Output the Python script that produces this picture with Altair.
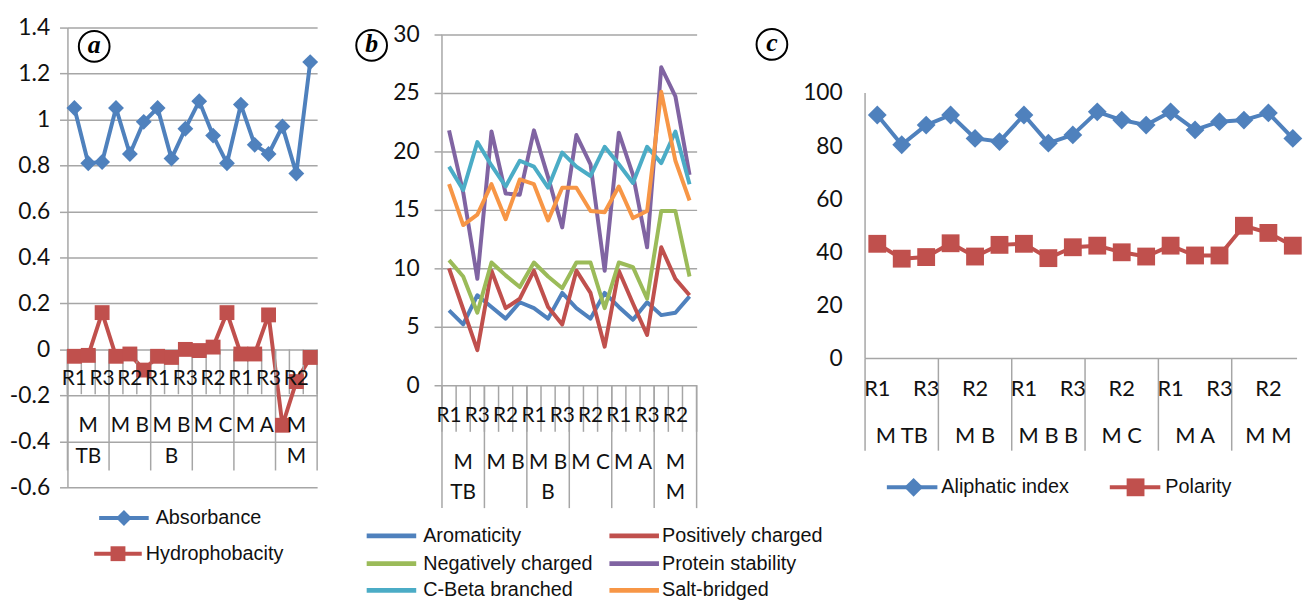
import altair as alt
import pandas as pd

# ---------------- data ----------------
groups = ["M TB", "M B", "M B B", "M C", "M A", "M M"]
group_line1 = ["M", "M B", "M B", "M C", "M A", "M"]
group_line2 = ["TB", "", "B", "", "", "M"]
replicates = ["R1", "R2", "R3"]
panel_letters = ["a", "b", "c"]

absorbance = [1.05, 0.81, 0.815, 1.05, 0.85, 0.99, 1.05, 0.83, 0.96, 1.08, 0.93, 0.81,
              1.065, 0.89, 0.85, 0.97, 0.765, 1.25]
hydrophobacity = [-0.03, -0.026, 0.16, -0.03, -0.02, -0.09, -0.03, -0.035, 0.0, -0.005, 0.01, 0.16,
                  -0.02, -0.02, 0.15, -0.33, -0.14, -0.035]

aromaticity = [6.4, 5.2, 7.7, 6.7, 5.7, 7.1, 6.6, 5.7, 7.9, 6.6, 5.7, 7.9, 6.7, 5.6, 7.1, 6.0, 6.2, 7.6]
positively_charged = [10.0, 6.5, 3.0, 9.8, 6.6, 7.4, 9.8, 6.7, 5.2, 9.8, 7.9, 3.3, 9.8, 7.0, 4.3, 11.8, 9.1, 7.7]
negatively_charged = [10.7, 9.3, 6.2, 10.5, 9.4, 8.4, 10.5, 9.3, 8.3, 10.5, 10.5, 6.6, 10.5, 10.1, 7.4, 14.9, 14.9, 9.3]
protein_stability = [21.8, 16.5, 9.1, 21.7, 16.4, 16.3, 21.8, 17.8, 13.5, 21.4, 18.9, 9.8, 21.6, 18.0, 11.8, 27.2, 24.7, 18.0]
c_beta_branched = [18.7, 16.7, 20.8, 18.8, 17.0, 19.2, 18.7, 16.9, 19.9, 18.7, 17.9, 20.4, 18.9, 17.3, 20.4, 19.0, 21.7, 17.2]
salt_bridged = [17.2, 13.7, 14.6, 17.2, 14.2, 17.6, 17.2, 14.1, 16.9, 16.9, 14.9, 14.8, 17.0, 14.3, 14.9, 25.1, 19.2, 15.8]

aliphatic_index = [91.7, 80.5, 87.9, 91.7, 82.9, 81.7, 91.7, 81.1, 84.2, 92.9, 89.8, 87.9,
                   92.9, 86.1, 89.2, 89.8, 92.5, 82.9]
polarity = [43.2, 37.6, 38.2, 43.4, 38.4, 42.8, 43.2, 37.8, 41.9, 42.5, 40.0, 38.4,
            42.5, 38.8, 38.8, 50.0, 47.3, 42.5]

# ---------------- styles ----------------
BLUE, RED, GREEN = "#4f81bd", "#c0504d", "#9bbb59"
PURPLE, AQUA, ORANGE = "#8064a2", "#4bacc6", "#f79646"
GRID = "#a6a6a6"
TXT = "#111111"
AXFONT = "Lato"
LEGFONT = "Liberation Sans"
YFS = 23
CFS = 21

N = len(groups) * len(replicates)
H = 464

cats = pd.DataFrame({"i": list(range(N))})
cats["pos"] = cats["i"] + 0.5
cats["rep"] = [replicates[i % 3] for i in range(N)]
shown = cats[cats["i"] % 2 == 0]
grp = pd.DataFrame({"center": [3 * g + 1.5 for g in range(len(groups))],
                    "name": groups, "l1": group_line1, "l2": group_line2})
bounds_all = pd.DataFrame({"b": list(range(N + 1))})
bounds_grp = pd.DataFrame({"b": list(range(0, N + 1, 3))})
one = pd.DataFrame({"k": [0]})


def long(d):
    rows = []
    for name, vals in d.items():
        for i, v in enumerate(vals):
            rows.append({"series": name, "pos": i + 0.5, "value": v})
    return pd.DataFrame(rows)


def text_layer(df, xs, field, y, size=CFS):
    return alt.Chart(df).mark_text(font=AXFONT, fontSize=size, color=TXT, baseline="middle",
                                   align="center").encode(
        x=alt.X(f"{xs[0]}:Q", scale=xs[1], axis=None), y=alt.value(y), text=f"{field}:N")


def circled(letter, x, y):
    df = pd.DataFrame({"t": [letter]})
    c = alt.Chart(df).mark_point(shape="circle", size=961, filled=False, stroke="black",
                                 strokeWidth=2, opacity=1).encode(x=alt.value(x), y=alt.value(y))
    t = alt.Chart(df).mark_text(font="Liberation Serif", fontStyle="italic", fontWeight="bold",
                                fontSize=26, color="black", baseline="middle", dy=-1).encode(
        x=alt.value(x), y=alt.value(y), text="t:N")
    return [c, t]


def legend_item(name, color, x1, x2, xt, y, shape=None, size=None, xm=None, sw=4):
    df = pd.DataFrame({"series": [name]})
    layers = [alt.Chart(df).mark_rule(strokeWidth=sw, color=color).encode(
        x=alt.value(x1), x2=alt.value(x2), y=alt.value(y))]
    if shape is not None:
        layers.append(alt.Chart(df).mark_point(filled=True, opacity=1, shape=shape, size=size,
                                               color=color).encode(
            x=alt.value(xm), y=alt.value(y)))
    layers.append(alt.Chart(df).mark_text(font=LEGFONT, fontSize=20, color=TXT, align="left",
                                          baseline="middle").encode(
        x=alt.value(xt), y=alt.value(y), text="series:N"))
    return layers


# ================= panel a =================
WA = 252
xa = alt.Scale(domain=[0, N], nice=False, zero=False)
ya = alt.Scale(domain=[-0.6, 1.4], nice=False, zero=False)
a_names = ["Absorbance", "Hydrophobacity"]
a_colors = [BLUE, RED]
a_shapes = ["diamond", "square"]
a_sizes = [256, 225]
a_color = alt.Scale(domain=a_names, range=a_colors)
a_shape = alt.Scale(domain=a_names, range=a_shapes)
a_size = alt.Scale(domain=a_names, range=a_sizes)
a_df = long({"Absorbance": absorbance, "Hydrophobacity": hydrophobacity})

ya_axis = alt.Axis(values=[-0.6, -0.4, -0.2, 0, 0.2, 0.4, 0.6, 0.8, 1.0, 1.2, 1.4],
                   labelExpr="'' + round(datum.value*10)/10", grid=True, gridColor=GRID,
                   gridWidth=1.5, domain=True, domainColor=GRID, domainWidth=1.5,
                   tickColor=GRID, tickWidth=1.5, tickSize=8, labelPadding=10,
                   labelFontSize=YFS, labelFont=AXFONT, labelColor=TXT, title=None)

# invisible (white) corner marker fixing the page origin of the whole figure
anchor = alt.Chart(one).mark_rule(color="white", strokeWidth=0.2).encode(
    x=alt.value(-59.7), x2=alt.value(-59.7), y=alt.value(-16.7), y2=alt.value(-12))

a_line = alt.Chart(a_df).mark_line(strokeWidth=4, strokeJoin="round").encode(
    x=alt.X("pos:Q", scale=xa, axis=None),
    y=alt.Y("value:Q", scale=ya, axis=ya_axis),
    color=alt.Color("series:N", scale=a_color, legend=None))
a_pts = alt.Chart(a_df).mark_point(filled=True, opacity=1).encode(
    x=alt.X("pos:Q", scale=xa, axis=None),
    y=alt.Y("value:Q", scale=ya, axis=ya_axis),
    color=alt.Color("series:N", scale=a_color, legend=None),
    shape=alt.Shape("series:N", scale=a_shape, legend=None),
    size=alt.Size("series:N", scale=a_size, legend=None))
a_ticks = alt.Chart(bounds_all).mark_rule(color=GRID, strokeWidth=1.5).encode(
    x=alt.X("b:Q", scale=xa, axis=None), y=alt.YDatum(0, scale=ya, axis=ya_axis), y2=alt.value(370))
a_div = alt.Chart(bounds_grp).mark_rule(color=GRID, strokeWidth=1.5).encode(
    x=alt.X("b:Q", scale=xa, axis=None), y=alt.YDatum(0, scale=ya, axis=ya_axis), y2=alt.value(447))

a_leg_layers = []
for nm, col, shp, sz, x1, x2, xm, xt, yy in zip(a_names, a_colors, a_shapes, a_sizes,
                                                [32, 27], [82, 75], [57, 51], [89, 79], [495, 531]):
    a_leg_layers += legend_item(nm, col, x1, x2, xt, yy, shp, sz, xm)

panel_a = alt.layer(
    a_line, a_ticks, a_div, a_pts, anchor,
    text_layer(shown, ("pos", xa), "rep", 355),
    text_layer(grp, ("center", xa), "l1", 402),
    text_layer(grp, ("center", xa), "l2", 433),
    *a_leg_layers,
    *circled(panel_letters[0], 27, 19),
).properties(width=WA, height=H)

# ================= panel b =================
WB = 257
xb = alt.Scale(domain=[0, N], nice=False, zero=False)
yb = alt.Scale(domain=[-8.729, 30.593], nice=False, zero=False)
b_names = ["Aromaticity", "Positively charged", "Negatively charged", "Protein stability",
           "C-Beta branched", "Salt-bridged"]
b_colors = [BLUE, RED, GREEN, PURPLE, AQUA, ORANGE]
b_color = alt.Scale(domain=b_names, range=b_colors)
b_df = long({"Aromaticity": aromaticity, "Positively charged": positively_charged,
             "Negatively charged": negatively_charged, "Protein stability": protein_stability,
             "C-Beta branched": c_beta_branched, "Salt-bridged": salt_bridged})

yb_axis = alt.Axis(values=[0, 5, 10, 15, 20, 25, 30], grid=True, gridColor=GRID, gridWidth=1.5,
                   domain=False, tickColor=GRID, tickWidth=1.5, tickSize=8, labelPadding=15,
                   labelFontSize=YFS, labelFont=AXFONT, labelColor=TXT, title=None)

b_line = alt.Chart(b_df).mark_line(strokeWidth=4, strokeJoin="round").encode(
    x=alt.X("pos:Q", scale=xb, axis=None),
    y=alt.Y("value:Q", scale=yb, axis=yb_axis),
    color=alt.Color("series:N", scale=b_color, legend=None))
b_axisline = alt.Chart(one).mark_rule(color=GRID, strokeWidth=1.5).encode(
    x=alt.XDatum(0, scale=xb, axis=None), y=alt.YDatum(0, scale=yb, axis=yb_axis), y2=alt.Y2Datum(30))
b_ticks = alt.Chart(bounds_all).mark_rule(color=GRID, strokeWidth=1.5).encode(
    x=alt.X("b:Q", scale=xb, axis=None), y=alt.YDatum(0, scale=yb, axis=yb_axis), y2=alt.value(408))
b_div = alt.Chart(bounds_grp).mark_rule(color=GRID, strokeWidth=1.5).encode(
    x=alt.X("b:Q", scale=xb, axis=None), y=alt.YDatum(0, scale=yb, axis=yb_axis), y2=alt.value(485))

b_leg_order = [0, 2, 4, 1, 3, 5]
b_leg_layers = []
for k, idx in enumerate(b_leg_order):
    colx = k // 3
    rowy = [513, 541, 568][k % 3]
    x1, x2, xt = [(-76, -26, -19), (169, 219, 222)][colx]
    b_leg_layers += legend_item(b_names[idx], b_colors[idx], x1, x2, xt, rowy, sw=5)

panel_b = alt.layer(
    b_line, b_ticks, b_div, b_axisline,
    text_layer(shown, ("pos", xb), "rep", 392),
    text_layer(grp, ("center", xb), "l1", 440),
    text_layer(grp, ("center", xb), "l2", 470),
    *b_leg_layers,
    *circled(panel_letters[1], -71, 18),
).properties(width=WB, height=H)

# ================= panel c =================
WC = 480
CAT_C = 24.67
xc = alt.Scale(domain=[-44 / CAT_C, (WC - 44) / CAT_C], nice=False, zero=False)
yc = alt.Scale(domain=[-48.51, 124.63], nice=False, zero=False)
c_names = ["Aliphatic index", "Polarity"]
c_colors = [BLUE, RED]
c_shapes = ["diamond", "square"]
c_sizes = [361, 324]
c_color = alt.Scale(domain=c_names, range=c_colors)
c_shape = alt.Scale(domain=c_names, range=c_shapes)
c_size = alt.Scale(domain=c_names, range=c_sizes)
c_df = long({"Aliphatic index": aliphatic_index, "Polarity": polarity})

yc_axis = alt.Axis(values=[0, 20, 40, 60, 80, 100], grid=False, domain=False, ticks=False,
                   labelPadding=23, offset=-44, labelFontSize=YFS, labelFont=AXFONT,
                   labelColor=TXT, title=None)

c_line = alt.Chart(c_df).mark_line(strokeWidth=4, strokeJoin="round").encode(
    x=alt.X("pos:Q", scale=xc, axis=None),
    y=alt.Y("value:Q", scale=yc, axis=yc_axis),
    color=alt.Color("series:N", scale=c_color, legend=None))
c_pts = alt.Chart(c_df).mark_point(filled=True, opacity=1).encode(
    x=alt.X("pos:Q", scale=xc, axis=None),
    y=alt.Y("value:Q", scale=yc, axis=yc_axis),
    color=alt.Color("series:N", scale=c_color, legend=None),
    shape=alt.Shape("series:N", scale=c_shape, legend=None),
    size=alt.Size("series:N", scale=c_size, legend=None))
c_axisline = alt.Chart(one).mark_rule(color=GRID, strokeWidth=1.5).encode(
    x=alt.XDatum(0, scale=xc, axis=None), y=alt.YDatum(0, scale=yc, axis=yc_axis), y2=alt.Y2Datum(100))
c_base = alt.Chart(one).mark_rule(color=GRID, strokeWidth=1.5).encode(
    x=alt.XDatum(0, scale=xc, axis=None), x2=alt.value(WC), y=alt.YDatum(0, scale=yc, axis=yc_axis))
c_div = alt.Chart(bounds_grp[bounds_grp["b"] < N]).mark_rule(color=GRID, strokeWidth=1.5).encode(
    x=alt.X("b:Q", scale=xc, axis=None), y=alt.YDatum(0, scale=yc, axis=yc_axis), y2=alt.value(427))

c_leg_layers = []
for nm, col, shp, sz, x1, x2, xm, xt in zip(c_names, c_colors, c_shapes, c_sizes,
                                            [66, 291], [117, 342], [93, 317], [121, 347]):
    c_leg_layers += legend_item(nm, col, x1, x2, xt, 464, shp, sz, xm)

panel_c = alt.layer(
    c_line, c_div, c_axisline, c_base, c_pts,
    text_layer(shown, ("pos", xc), "rep", 365, 22),
    text_layer(grp, ("center", xc), "name", 412, 22),
    *c_leg_layers,
    *circled(panel_letters[2], -50, 17),
).properties(width=WC, height=H)

chart = alt.hconcat(panel_a, panel_b, panel_c, spacing=126, bounds="flush").resolve_scale(
    color="independent", shape="independent", size="independent"
).properties(padding=0, background="white").configure_view(stroke=None)

chart.save("out.html", embed_options={"renderer": "svg", "actions": False})
